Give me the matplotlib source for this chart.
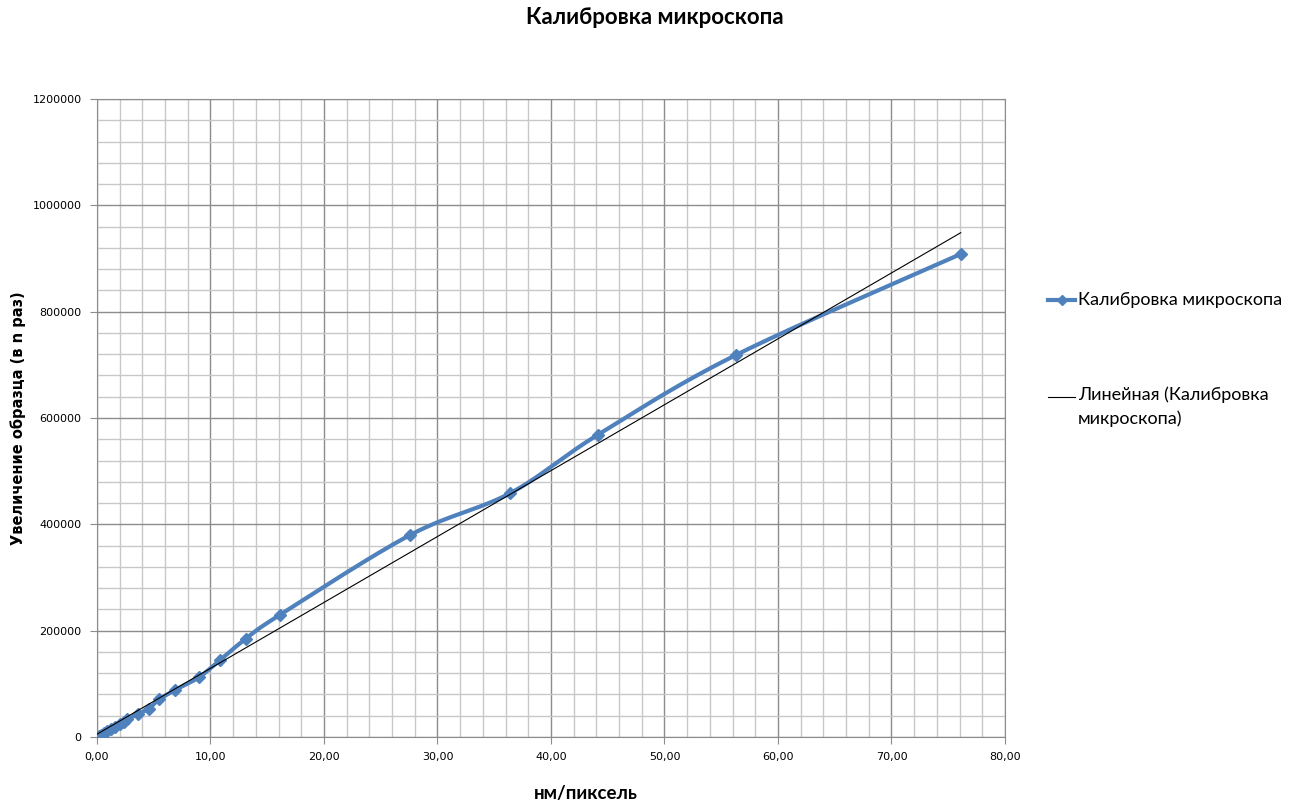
import numpy as np
import matplotlib.pyplot as plt
from matplotlib.ticker import MultipleLocator, FuncFormatter
from matplotlib.lines import Line2D

# calibration data
nm_per_px = [0.15, 0.35, 0.6, 0.9, 1.2, 1.6, 2.0, 2.35, 2.65, 3.65, 4.55,
             5.5, 6.9, 9.0, 10.8, 13.1, 16.1, 27.6, 36.4, 44.1, 56.3, 76.1]
magnification = [1500, 4000, 7000, 11000, 15000, 19500, 24000, 28500, 33000,
                 43500, 53000, 71000, 88500, 112500, 144000, 184500, 229500,
                 380000, 458500, 568000, 718500, 908500]

series_name = 'Калибровка микроскопа'
trend_name = 'Линейная (Калибровка\nмикроскопа)'
blue = '#4F81BD'


def smooth(x, y, n=30):
    # Catmull-Rom style smoothing like the spreadsheet's smoothed line
    x = np.asarray(x, float)
    y = np.asarray(y, float)
    px = np.concatenate([[2 * x[0] - x[1]], x, [2 * x[-1] - x[-2]]])
    py = np.concatenate([[2 * y[0] - y[1]], y, [2 * y[-1] - y[-2]]])
    xs, ys = [], []
    t = np.linspace(0, 1, n)
    for i in range(1, len(px) - 2):
        p0, p1, p2, p3 = [np.array([px[j], py[j]]) for j in range(i - 1, i + 3)]
        b1 = p1 + (p2 - p0) / 6
        b2 = p2 - (p3 - p1) / 6
        pts = ((1 - t) ** 3)[:, None] * p1 + (3 * (1 - t) ** 2 * t)[:, None] * b1 \
            + (3 * (1 - t) * t ** 2)[:, None] * b2 + (t ** 3)[:, None] * p2
        xs.extend(pts[:, 0])
        ys.extend(pts[:, 1])
    return np.array(xs), np.array(ys)


W, H = 1303, 805
fig = plt.figure(figsize=(W / 100, H / 100), dpi=100)
ax = fig.add_axes([0.0744, 0.0845, 0.6969, 0.7925])

ax.xaxis.set_major_locator(MultipleLocator(10))
ax.xaxis.set_minor_locator(MultipleLocator(2))
ax.yaxis.set_major_locator(MultipleLocator(200000))
ax.yaxis.set_minor_locator(MultipleLocator(40000))
ax.grid(True, which='major', color='#8c8c8c', linewidth=1.0)
ax.grid(True, which='minor', color='#c8c8c8', linewidth=1.0)
ax.set_axisbelow(True)
ax.set_xlim(0, 80)
ax.set_ylim(0, 1200000)

sx, sy = smooth(nm_per_px, magnification)
ax.plot(sx, sy, color=blue, linewidth=3, solid_capstyle='round', zorder=3)
ax.plot(nm_per_px, magnification, linestyle='none', marker='D', markersize=6,
        color=blue, zorder=4)

k, b = np.polyfit(nm_per_px, magnification, 1)
tx = np.array([0, max(nm_per_px)])
ax.plot(tx, k * tx + b, color='black', linewidth=0.8, zorder=5)

ax.xaxis.set_major_formatter(FuncFormatter(lambda v, p: f'{v:.2f}'.replace('.', ',')))
ax.yaxis.set_major_formatter(FuncFormatter(lambda v, p: f'{int(v)}'))
ax.tick_params(axis='both', which='both', length=0, labelsize=8)
ax.tick_params(axis='x', which='major', length=5, color='#8c8c8c', pad=6)
ax.tick_params(axis='y', which='major', length=5, color='#8c8c8c', pad=6)
for s in ax.spines.values():
    s.set_color('#8c8c8c')

fig.text(586 / W, 1 - 793 / H, 'нм/пиксель', ha='center', va='center',
         fontsize=13.5, fontweight='bold', family='Lato')
fig.text(18 / W, 1 - 418 / H, 'Увеличение образца (в n раз)', ha='center',
         va='center', rotation=90, fontsize=10.5, fontweight='bold')
fig.text(655 / W, 1 - 17 / H, series_name, ha='center', va='center',
         fontsize=16, fontweight='bold', family='Lato')

# legend, laid out like the spreadsheet's
leg_font = {'family': 'Lato', 'size': 13}
fig.add_artist(Line2D([1048 / W, 1075 / W], [1 - 300 / H] * 2, color=blue,
                      linewidth=3, transform=fig.transFigure))
fig.add_artist(Line2D([1061.5 / W], [1 - 300 / H], color=blue, marker='D',
                      markersize=5, transform=fig.transFigure))
fig.text(1078 / W, 1 - 300 / H, series_name, va='center', ha='left', **leg_font)
fig.add_artist(Line2D([1048 / W, 1075 / W], [1 - 397 / H] * 2, color='black',
                      linewidth=0.8, transform=fig.transFigure))
fig.text(1078 / W, 1 - 386 / H, trend_name, va='top', ha='left',
         linespacing=1.55, **leg_font)

fig.savefig('out.png', dpi=100)
